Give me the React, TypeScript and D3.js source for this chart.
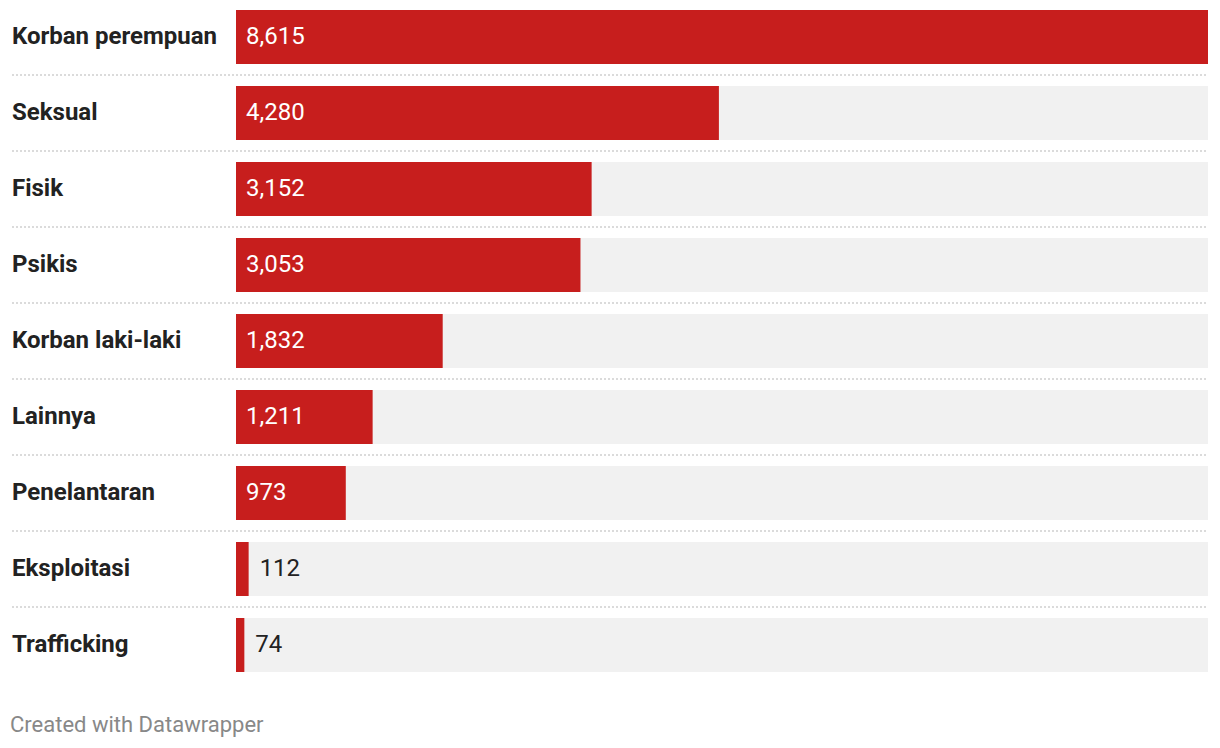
import React from 'react';
import * as d3 from 'd3';

const categories = [
  'Korban perempuan',
  'Seksual',
  'Fisik',
  'Psikis',
  'Korban laki-laki',
  'Lainnya',
  'Penelantaran',
  'Eksploitasi',
  'Trafficking',
];
const values = [8615, 4280, 3152, 3053, 1832, 1211, 973, 112, 74];
const footer = 'Created with Datawrapper';

const width = 1220,
  height = 748,
  red = '#c71e1d',
  track = '#f1f1f1',
  font = 'Roboto, "Noto Sans", sans-serif';

const fmt = d3.format(',');

export default function App() {
  const x = d3.scaleLinear().domain([0, d3.max(values) as number]).range([236, 1208]);
  const y = d3
    .scaleBand<string>()
    .domain(categories)
    .range([10, 672])
    .paddingInner(22 / 76)
    .paddingOuter(0);
  const bw = y.bandwidth();

  return (
    <svg
      width={width}
      height={height}
      style={{ position: 'absolute', left: 0, top: 0, background: '#fff' }}
      fontFamily={font}
    >
      {categories.map((c, i) => {
        const top = y(c) as number;
        const mid = top + bw / 2;
        const v = values[i];
        const barW = x(v) - x(0);
        const inside = barW > 60;
        return (
          <g key={c}>
            {i > 0 && (
              <line
                x1={12}
                x2={1208}
                y1={top - (y.step() - bw) / 2}
                y2={top - (y.step() - bw) / 2}
                stroke="#cfcfcf"
                strokeWidth={1.5}
                strokeDasharray="2,2"
              />
            )}
            <text x={12} y={mid} dy="0.29em" fontSize={24} fontWeight={700} fill="#222">
              {c}
            </text>
            <rect x={x(0)} y={top} width={x.range()[1] - x(0)} height={bw} fill={track} />
            <rect x={x(0)} y={top} width={barW} height={bw} fill={red} />
            <text
              x={inside ? x(0) + 10 : x(v) + 11}
              y={mid}
              dy="0.29em"
              fontSize={24}
              fill={inside ? '#fff' : '#222'}
            >
              {fmt(v)}
            </text>
          </g>
        );
      })}
      <text x={10} y={732} fontSize={22} fill="#888">
        {footer}
      </text>
    </svg>
  );
}
